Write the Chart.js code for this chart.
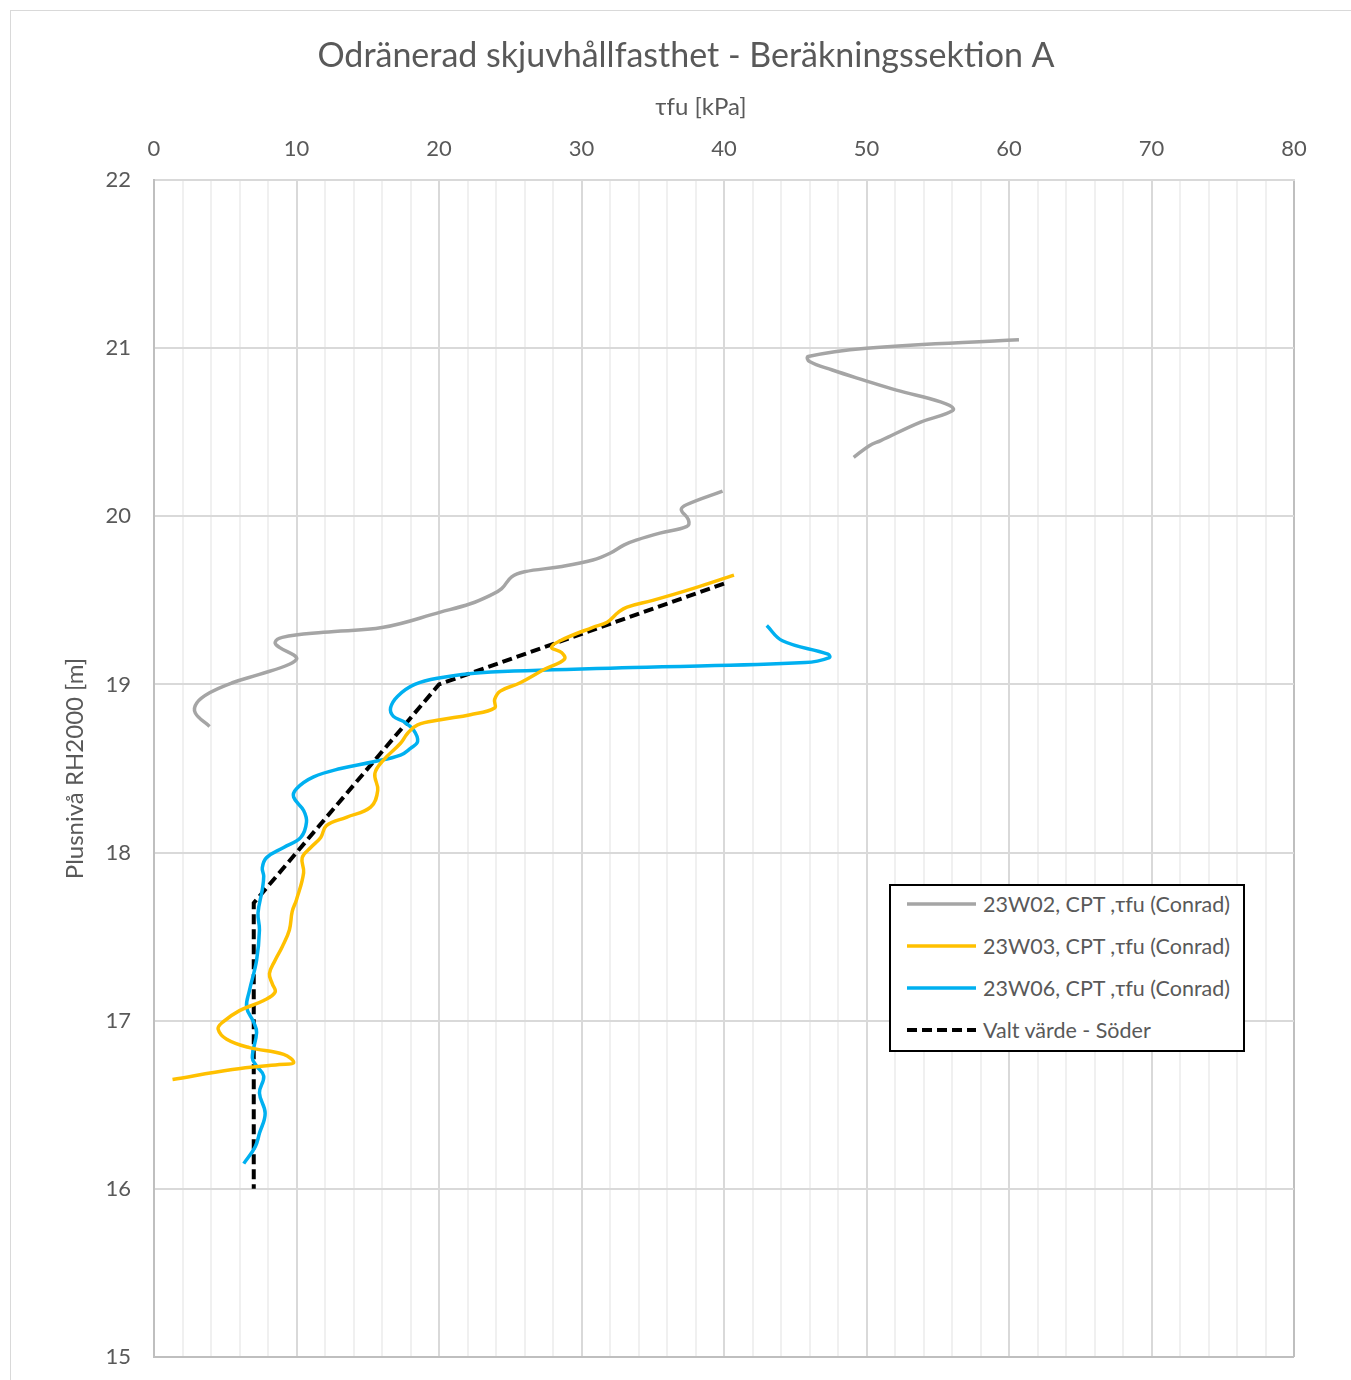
<!DOCTYPE html>
<html lang="sv">
<head>
<meta charset="utf-8">
<title>Odränerad skjuvhållfasthet - Beräkningssektion A</title>
<script src="https://cdn.jsdelivr.net/npm/chart.js@4.4.1/dist/chart.umd.min.js"></script>
<style>
  html, body { margin: 0; padding: 0; background: #ffffff; overflow: hidden; }
  #frame {
    position: absolute; left: 10px; top: 10px;
    width: 1400px; height: 1400px;
    border: 1px solid #d9d9d9; background: #fff;
  }
  #chart { position: absolute; left: 0; top: 0; }
  #legend {
    position: absolute; left: 878px; top: 873px;
    width: 352px; height: 164px;
    border: 2px solid #000; background: #fff;
    font-family: Lato, "Open Sans", sans-serif; font-size: 21.5px; color: #595959;
  }
  #legend .row { position: absolute; left: 0; height: 30px; display: flex; align-items: center; white-space: nowrap; }
  #legend svg { margin-left: 16px; margin-right: 7px; }
</style>
</head>
<body>
<div id="frame">
  <canvas id="chart" width="1340" height="1369"></canvas>
  <div id="legend"></div>
</div>
<script>
// Series names
const seriesNames = [
  '23W02, CPT ,τfu (Conrad)',
  '23W03, CPT ,τfu (Conrad)',
  '23W06, CPT ,τfu (Conrad)',
  'Valt värde - Söder'
];

// 23W02 – τfu [kPa] vs level [m]; null marks the break in the profile
const w02Tau = [60.7, 50.0, 45.9, 46.0, 47.6, 49.8, 52.1, 55.2, 56.1, 55.6, 53.8, 51.0, 50.2, 49.1, null,
  39.9, 37.4, 37.0, 37.5, 37.4, 35.5, 33.9, 33.0, 32.0, 30.8, 28.5, 26.0, 25.1, 24.4, 23.6, 22.2, 20.1,
  16.1, 11.9, 9.0, 8.5, 8.8, 10.0, 9.5, 7.4, 5.5, 3.9, 3.0, 2.9, 3.9];
const w02Level = [21.05, 21.00, 20.95, 20.92, 20.87, 20.81, 20.75, 20.68, 20.64, 20.61, 20.56, 20.45, 20.42, 20.35, null,
  20.15, 20.07, 20.04, 19.98, 19.94, 19.90, 19.86, 19.83, 19.78, 19.74, 19.70, 19.67, 19.64, 19.57, 19.53, 19.48, 19.43,
  19.34, 19.31, 19.28, 19.25, 19.22, 19.16, 19.12, 19.06, 19.01, 18.95, 18.89, 18.83, 18.75];

// 23W03
const w03Tau = [40.7, 37.8, 35.0, 33.2, 32.6, 31.8, 30.8, 28.5, 27.9, 28.6, 28.8, 27.4, 25.7, 24.3, 23.9, 23.9,
  22.2, 20.1, 18.5, 17.8, 17.3, 16.1, 15.5, 15.7, 15.2, 13.5, 12.1, 11.7, 11.0, 10.4, 10.5, 10.0, 9.7, 9.5,
  9.0, 8.5, 8.1, 8.3, 8.5, 7.7, 6.0, 4.8, 4.5, 5.1, 6.7, 9.1, 9.8, 8.8, 5.5, 1.3];
const w03Level = [19.65, 19.57, 19.50, 19.46, 19.43, 19.37, 19.34, 19.26, 19.22, 19.19, 19.15, 19.09, 19.01, 18.96, 18.91, 18.86,
  18.82, 18.79, 18.76, 18.71, 18.65, 18.55, 18.47, 18.37, 18.27, 18.21, 18.16, 18.09, 18.03, 17.97, 17.88, 17.72, 17.65, 17.54,
  17.44, 17.36, 17.28, 17.22, 17.17, 17.12, 17.06, 16.99, 16.95, 16.89, 16.84, 16.80, 16.75, 16.74, 16.71, 16.65];

// 23W06
const w06Tau = [43.0, 44.1, 47.3, 47.4, 45.7, 33.6, 22.9, 20.1, 18.3, 17.1, 16.6, 16.8, 17.5, 18.2, 18.5, 18.0,
  17.3, 15.4, 13.1, 11.2, 10.0, 9.8, 10.5, 10.7, 10.3, 9.1, 7.9, 7.6, 7.7, 7.6, 7.3, 7.4, 7.2, 6.7, 6.5,
  7.0, 7.2, 6.9, 7.2, 7.7, 7.4, 7.8, 7.4, 7.1, 6.3];
const w06Level = [19.35, 19.26, 19.18, 19.16, 19.13, 19.10, 19.07, 19.04, 19.00, 18.93, 18.86, 18.81, 18.78, 18.73, 18.66, 18.62,
  18.58, 18.54, 18.50, 18.45, 18.38, 18.33, 18.25, 18.18, 18.09, 18.03, 17.97, 17.91, 17.86, 17.78, 17.64, 17.54, 17.36, 17.18, 17.08,
  16.99, 16.93, 16.78, 16.73, 16.67, 16.57, 16.45, 16.33, 16.25, 16.15];

// Chosen design value (south)
const valtTau = [40, 20, 7, 7];
const valtLevel = [19.6, 19.0, 17.7, 16.0];

// Axis ranges
const tauRange = [0, 80];
const levelRange = [15, 22];

const toPoints = (xs, ys) => xs.map((x, i) => ({ x: x === null ? NaN : x, y: ys[i] === null ? NaN : ys[i] }));

const FONT = 'Lato, "Open Sans", sans-serif';
const TEXT = '#595959';

// Chart title and x-axis caption
const captions = {
  id: 'captions',
  afterDraw(chart) {
    const ctx = chart.ctx;
    ctx.save();
    ctx.fillStyle = TEXT;
    ctx.textAlign = 'center';
    ctx.textBaseline = 'middle';
    ctx.font = '34px ' + FONT;
    ctx.fillText('Odränerad skjuvhållfasthet - Beräkningssektion A', 675, 45);
    ctx.font = '24px ' + FONT;
    ctx.fillText('τfu [kPa]', 690, 96);
    ctx.restore();
  }
};

const chart = new Chart(document.getElementById('chart'), {
  type: 'scatter',
  data: {
    datasets: [
      { label: seriesNames[0], data: toPoints(w02Tau, w02Level), borderColor: '#A5A5A5', borderWidth: 3.5, tension: 0.4 },
      { label: seriesNames[1], data: toPoints(w03Tau, w03Level), borderColor: '#FFC000', borderWidth: 3.5, tension: 0.4 },
      { label: seriesNames[2], data: toPoints(w06Tau, w06Level), borderColor: '#00B0F0', borderWidth: 3.5, tension: 0.4 },
      { label: seriesNames[3], data: toPoints(valtTau, valtLevel), borderColor: '#000000', borderWidth: 4, borderDash: [10, 5], tension: 0 }
    ].map(d => Object.assign({ showLine: true, pointRadius: 0, pointHoverRadius: 0, spanGaps: false, fill: false }, d))
  },
  options: {
    responsive: false,
    animation: false,
    devicePixelRatio: 1,
    layout: { padding: { left: 0, top: 0, right: 57, bottom: 23 } },
    plugins: { legend: { display: false }, title: { display: false }, tooltip: { enabled: false } },
    scales: {
      x: {
        type: 'linear', position: 'top', min: tauRange[0], max: tauRange[1],
        afterFit(scale) { scale.height = 169; scale.paddingLeft = 0; scale.paddingRight = 0; },
        ticks: {
          stepSize: 2, autoSkip: false, maxRotation: 0, padding: 18,
          color: TEXT, font: { family: FONT, size: 22 },
          callback: v => (v % 10 === 0 ? String(v) : '')
        },
        grid: {
          drawTicks: false, lineWidth: 2,
          color: c => (c.tick && c.tick.value === tauRange[1]) ? '#bfbfbf'
                    : (c.tick && c.tick.value % 10 === 0 ? '#d9d9d9' : '#f0f0f0')
        },
        border: { color: '#d9d9d9', width: 2 }
      },
      y: {
        type: 'linear', position: 'left', min: levelRange[0], max: levelRange[1],
        afterFit(scale) { scale.width = 143; scale.paddingTop = 0; scale.paddingBottom = 0; },
        ticks: { stepSize: 1, padding: 23, color: TEXT, font: { family: FONT, size: 22 } },
        grid: {
          drawTicks: false, lineWidth: 2,
          color: c => (c.tick && c.tick.value === levelRange[0]) ? '#bfbfbf' : '#d9d9d9'
        },
        border: { color: '#bfbfbf', width: 2 },
        title: { display: true, text: 'Plusnivå RH2000 [m]', color: TEXT, font: { family: FONT, size: 24 }, padding: { top: 50, bottom: 0 } }
      }
    }
  },
  plugins: [captions]
});

// HTML legend built from the datasets
(function buildLegend() {
  const box = document.getElementById('legend');
  const rowTops = [3, 45, 87, 129];
  chart.data.datasets.forEach((ds, i) => {
    const row = document.createElement('div');
    row.className = 'row';
    row.style.top = rowTops[i] + 'px';
    const dash = ds.borderDash ? ` stroke-dasharray="${ds.borderDash.join(' ')}"` : '';
    row.innerHTML = `<svg width="69" height="6"><line x1="0" y1="3" x2="69" y2="3" stroke="${ds.borderColor}" stroke-width="${ds.borderWidth}"${dash}/></svg><span>${ds.label}</span>`;
    box.appendChild(row);
  });
})();
</script>
</body>
</html>
